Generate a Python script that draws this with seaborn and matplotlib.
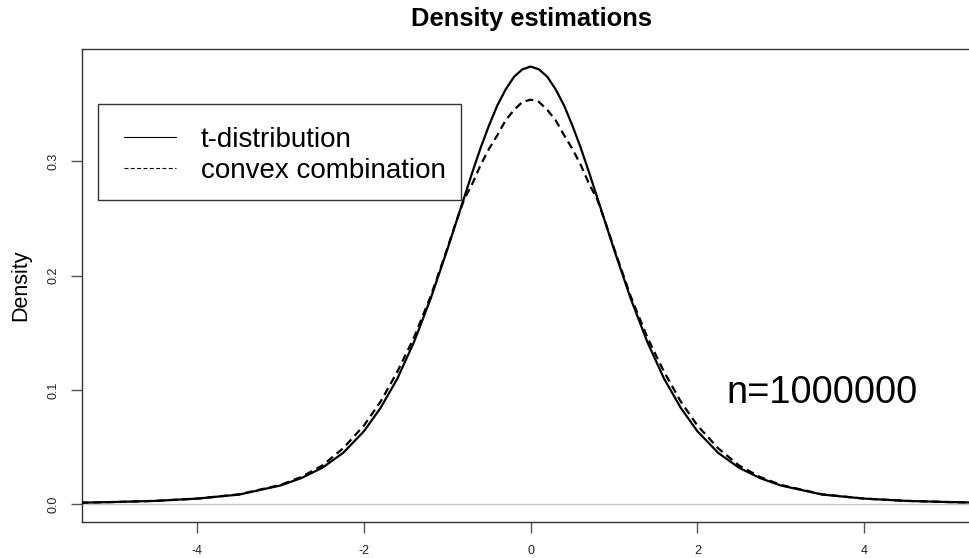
import numpy as np
import pandas as pd
import seaborn as sns
import matplotlib
matplotlib.use("Agg")
import matplotlib.pyplot as plt
from matplotlib.lines import Line2D
from matplotlib.patches import Rectangle

# ---------------- data ----------------
x_half = [0.0, 0.1, 0.2, 0.3, 0.4, 0.5, 0.6, 0.7, 0.8, 0.9, 1.0, 1.2, 1.4,
          1.6, 1.8, 2.0, 2.25, 2.5, 2.75, 3.0, 3.5, 4.0, 4.5, 5.0, 5.4]
t_dist_half = [0.3830, 0.3805, 0.3740, 0.3630, 0.3490, 0.3315, 0.3120, 0.2905,
               0.2680, 0.2455, 0.2230, 0.1800, 0.1420, 0.1100, 0.0845, 0.0640,
               0.0450, 0.0320, 0.0230, 0.0165, 0.0085, 0.0050, 0.0030, 0.0020,
               0.0014]
convex_half = [0.3540, 0.3520, 0.3450, 0.3360, 0.3230, 0.3110, 0.2970, 0.2805,
               0.2665, 0.2460, 0.2240, 0.1820, 0.1460, 0.1160, 0.0900, 0.0690,
               0.0490, 0.0340, 0.0240, 0.0170, 0.0087, 0.0050, 0.0030, 0.0020,
               0.0014]
series_labels = ["t-distribution", "convex combination"]
x_ticks = [-4, -2, 0, 2, 4]
y_ticks = [0.0, 0.1, 0.2, 0.3]
title = "Density estimations"
y_label = "Density"
note = "n=1000000"

# symmetric curves (left half mirrors the right half as read)
x_vals = [-v for v in x_half[:0:-1]] + x_half
t_vals = t_dist_half[:0:-1] + t_dist_half
c_vals = convex_half[:0:-1] + convex_half
df = pd.DataFrame({"x": x_vals, "t": t_vals, "c": c_vals})

# ---------------- style ----------------
sns.set_theme(style="white")
plt.rcParams["font.family"] = ["Liberation Sans", "DejaVu Sans"]

W, H = 970, 558
fig = plt.figure(figsize=(W / 100, H / 100), dpi=100)
ax_l, ax_r, ax_t, ax_b = 81.7, 975.0, 48.7, 522.3
ax = fig.add_axes([ax_l / W, (H - ax_b) / H, (ax_r - ax_l) / W, (ax_b - ax_t) / H])

# zero line
ax.axhline(0, color="#c8c8c8", lw=1.0, zorder=1)

sns.lineplot(data=df, x="x", y="t", ax=ax, color="black", lw=1.6,
             legend=False, sort=True, estimator=None, zorder=3)
sns.lineplot(data=df, x="x", y="c", ax=ax, color="black", lw=1.6,
             linestyle=(0, (3.5, 2.2)), legend=False, sort=True,
             estimator=None, zorder=3)

ax.set_xlim(-5.388, 5.332)
ax.set_ylim(-0.01575, 0.3986)
ax.set_xticks(x_ticks)
ax.set_xticklabels([str(v) for v in x_ticks])
ax.set_yticks(y_ticks)
ax.set_yticklabels([f"{v:.1f}" for v in y_ticks], rotation=90, va="center")

ax.tick_params(axis="both", which="major", length=8, width=1.0,
               color="#555555", labelcolor="#222222", labelsize=9,
               left=True, bottom=True, pad=8)
ax.tick_params(axis="y", pad=8)

for s in ax.spines.values():
    s.set_color("#333333")
    s.set_linewidth(1.0)

ax.set_xlabel("")
ax.set_ylabel(y_label, fontsize=15.5, color="black")
ax.yaxis.set_label_coords((31 - ax_l) / (ax_r - ax_l), 0.5)

ax.set_title(title, fontsize=18.4, fontweight="bold", pad=16.3, color="black",
             x=(531.2 - ax_l) / (ax_r - ax_l))

ax.text(3.5, 0.0886, note, fontsize=27.4, ha="center", va="baseline",
        color="black")

# legend box
fig.add_artist(Rectangle((98 / W, (H - 200) / H), (461 - 98) / W, 96 / H,
                         transform=fig.transFigure, fill=False,
                         edgecolor="#333333", lw=1.0, zorder=5))
handles = [Line2D([], [], color="black", lw=0.8),
           Line2D([], [], color="black", lw=0.8, linestyle=(0, (3.5, 2.2)))]
fs = 20
em = fs * 100 / 72
leg = ax.legend(handles, series_labels, loc="center left",
                bbox_to_anchor=(124 / W, (H - 155.5) / H),
                bbox_transform=fig.transFigure, frameon=False,
                borderpad=0, borderaxespad=0, fontsize=fs,
                handlelength=52 / em, handletextpad=25 / em,
                labelspacing=5 / em)
for t in leg.get_texts():
    t.set_color("black")

fig.savefig("out.png", dpi=100)
